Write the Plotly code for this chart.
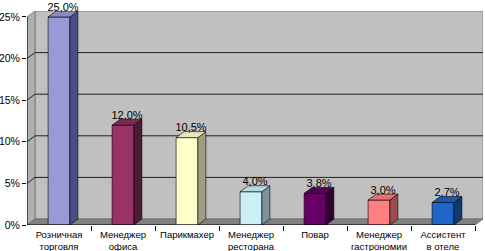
import plotly.graph_objects as go

categories = ["Розничная<br>торговля", "Менеджер<br>офиса", "Парикмахер", "Менеджер<br>ресторана",
              "Повар", "Менеджер<br>гастрономии", "Ассистент<br>в отеле"]
values = [25.0, 12.0, 10.5, 4.0, 3.8, 3.0, 2.7]
y_ticks = [0, 5, 10, 15, 20, 25]

front_colors = ["#9999D6", "#993366", "#FFFFCC", "#CCEEF5", "#660066", "#FF8080", "#1F66C8"]
side_colors = ["#4D4D85", "#4D1A33", "#9E9E80", "#7A9499", "#330033", "#9A4D4D", "#0F3A70"]
top_colors = ["#8A8AC4", "#7A2952", "#E6E6B8", "#B8D8DE", "#520052", "#E67373", "#1A5AB0"]

DX = 0.125     # depth offset in category units
DY = 0.72      # depth offset in percent units
HW = 0.17      # half width of bars
LABEL_DROP = 0.3
n = len(categories)
ytop = 25 + DY

fig = go.Figure()

shapes = []
shapes.append(dict(type="rect", xref="x", yref="y", x0=-0.5 + DX, x1=n - 0.5 + DX, y0=DY, y1=25 + DY,
                   fillcolor="#C0C0C0", line=dict(color="#808080", width=1), layer="below"))
shapes.append(dict(type="path", xref="x", yref="y",
                   path=f"M {-0.5} 0 L {-0.5+DX} {DY} L {-0.5+DX} {25+DY} L {-0.5} 25 Z",
                   fillcolor="#B0B0B0", line=dict(color="#808080", width=1), layer="below"))
shapes.append(dict(type="path", xref="x", yref="y",
                   path=f"M {-0.5} 0 L {n-0.5} 0 L {n-0.5+DX} {DY} L {-0.5+DX} {DY} Z",
                   fillcolor="#808080", line=dict(color="#707070", width=1), layer="below"))
for t in y_ticks[1:-1]:
    shapes.append(dict(type="line", xref="x", yref="y", x0=-0.5 + DX, x1=n - 0.5 + DX, y0=t + DY, y1=t + DY,
                       line=dict(color="#202020", width=1), layer="below"))
    shapes.append(dict(type="line", xref="x", yref="y", x0=-0.5, x1=-0.5 + DX, y0=t, y1=t + DY,
                       line=dict(color="#202020", width=1), layer="below"))
shapes.append(dict(type="line", xref="x", yref="y", x0=-0.5, x1=-0.5, y0=0, y1=25,
                   line=dict(color="#000000", width=1)))
shapes.append(dict(type="line", xref="x", yref="y", x0=-0.5, x1=n - 0.5, y0=0, y1=0,
                   line=dict(color="#000000", width=1)))

fig.add_trace(go.Bar(x=list(range(n)), y=values, width=2 * HW,
                     marker=dict(color=front_colors, line=dict(color="#000000", width=0.6)),
                     showlegend=False, hoverinfo="skip"))

for i, v in enumerate(values):
    fig.add_trace(go.Scatter(
        x=[i + HW, i + HW + DX, i + HW + DX, i + HW, i + HW],
        y=[0, DY, v + DY, v, 0],
        fill="toself", fillcolor=side_colors[i], mode="lines",
        line=dict(color="#000000", width=0.6), showlegend=False, hoverinfo="skip"))
    fig.add_trace(go.Scatter(
        x=[i - HW, i + HW, i + HW + DX, i - HW + DX, i - HW],
        y=[v, v, v + DY, v + DY, v],
        fill="toself", fillcolor=top_colors[i], mode="lines",
        line=dict(color="#000000", width=0.6), showlegend=False, hoverinfo="skip"))

fig.add_trace(go.Scatter(
    x=[i + DX / 2 for i in range(n)], y=[v + DY - LABEL_DROP for v in values],
    mode="text", text=[f"{v:.1f}%".replace(".", ",") for v in values],
    textposition="top center", textfont=dict(family="Arial", size=11, color="#000000"),
    cliponaxis=False, showlegend=False, hoverinfo="skip"))

fig.add_trace(go.Scatter(x=[0], y=[0], xaxis="x2", mode="markers", marker=dict(opacity=0),
                         showlegend=False, hoverinfo="skip"))

fig.update_layout(
    width=485, height=251,
    margin=dict(l=27, r=2, t=11, b=26),
    paper_bgcolor="#FFFFFF", plot_bgcolor="#FFFFFF",
    shapes=shapes,
    bargap=0,
    font=dict(family="Arial", color="#000000"),
    xaxis=dict(range=[-0.5, n - 0.5 + DX], tickvals=list(range(n)), ticktext=categories,
               ticks="", showgrid=False, zeroline=False, showline=False, automargin=False,
               ticklabelstandoff=2, tickfont=dict(size=9.5), fixedrange=True),
    xaxis2=dict(range=[-0.5, n - 0.5 + DX], overlaying="x", anchor="y", side="bottom",
                tickvals=[i + 0.5 for i in range(n)], ticks="outside", ticklen=5,
                tickcolor="#000000", showticklabels=False, showgrid=False, zeroline=False,
                showline=False, automargin=False),
    yaxis=dict(range=[0, ytop], tickvals=y_ticks, ticktext=[f"{t}%" for t in y_ticks],
               ticks="outside", ticklen=4, tickcolor="#000000", showgrid=False, zeroline=False,
               showline=False, automargin=False, tickfont=dict(size=10.5)),
)

fig.write_html("out.html", config={"displayModeBar": False, "staticPlot": True},
               post_script="document.body.style.margin='0px';document.body.style.padding='0px';")
